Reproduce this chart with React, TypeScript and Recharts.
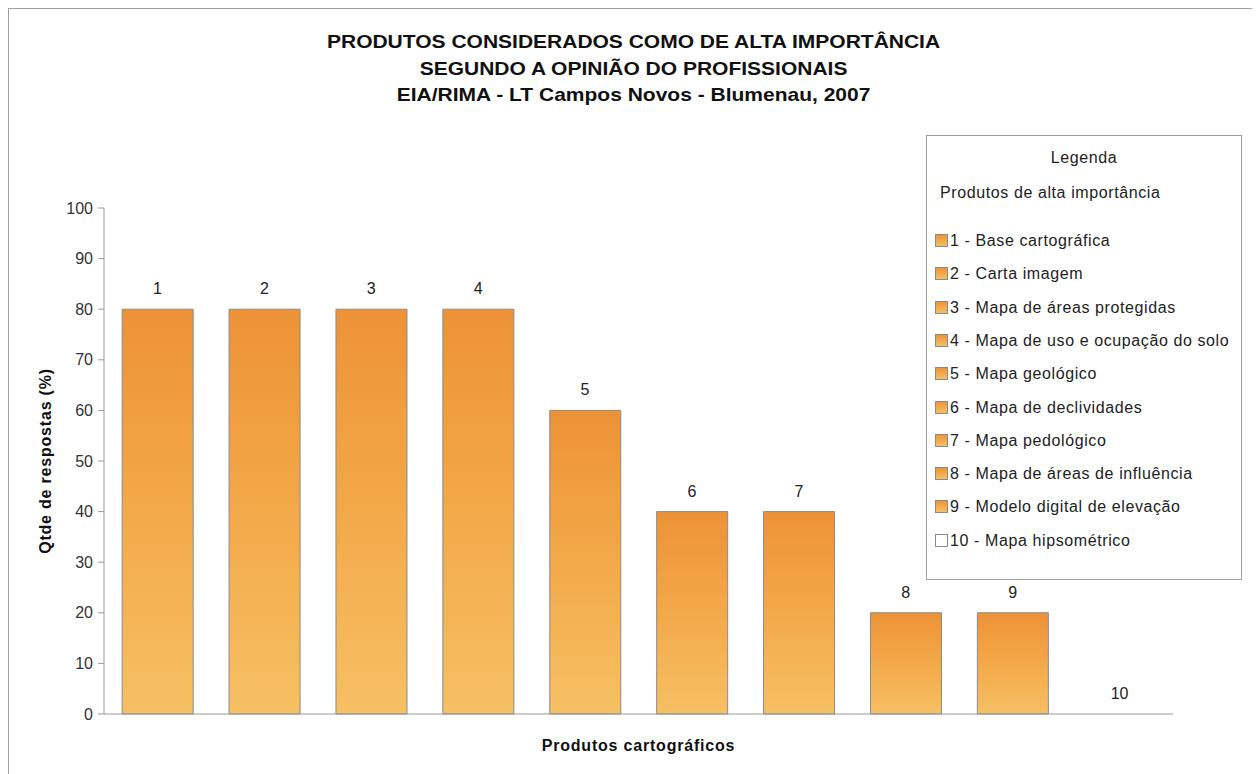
import React from "react";
import { ComposedChart, Bar, Line, XAxis, YAxis, LabelList } from "recharts";

const categories = ["1", "2", "3", "4", "5", "6", "7", "8", "9", "10"];
const respostas = [80, 80, 80, 80, 60, 40, 40, 20, 20, 0];
const legendNames = [
  "1 - Base cartográfica",
  "2 - Carta imagem",
  "3 - Mapa de áreas protegidas",
  "4 - Mapa de uso e ocupação do solo",
  "5 - Mapa geológico",
  "6 - Mapa de declividades",
  "7 - Mapa pedológico",
  "8 - Mapa de áreas de influência",
  "9 - Modelo digital de elevação",
  "10 - Mapa hipsométrico",
];
const yTicks = [0, 10, 20, 30, 40, 50, 60, 70, 80, 90, 100];
const titleLines = [
  "PRODUTOS CONSIDERADOS COMO DE ALTA IMPORTÂNCIA",
  "SEGUNDO A OPINIÃO DO PROFISSIONAIS",
  "EIA/RIMA - LT Campos Novos - Blumenau, 2007",
];

const data = categories.map((c, i) => ({ cat: c, value: respostas[i] }));

const FONT = '"Liberation Sans", Arial, sans-serif';

function Swatch({ filled }: { filled: boolean }) {
  return (
    <span
      style={{
        display: "inline-block",
        width: 11,
        height: 11,
        border: "1px solid #8a8a8a",
        background: filled
          ? "linear-gradient(to bottom, #ee9438, #f6c063)"
          : "#fff",
        marginRight: 2,
        verticalAlign: "-1px",
      }}
    />
  );
}

// legend box drawn over the chart so it doesn't shrink the plot area
function LegendBox() {
  return (
    <div
      style={{
        position: "absolute",
        left: 917,
        top: 126,
        width: 314,
        height: 443,
        border: "1px solid #a0a0a0",
        background: "#fff",
        fontFamily: FONT,
        fontSize: 16,
        letterSpacing: "0.6px",
        color: "#222",
      }}
    >
      <div style={{ position: "absolute", top: 13, left: 0, width: 314, textAlign: "center" }}>
        Legenda
      </div>
      <div style={{ position: "absolute", top: 48, left: 13 }}>
        Produtos de alta importância
      </div>
      {legendNames.map((name, i) => (
        <div
          key={name}
          style={{ position: "absolute", top: 96 + i * 33.3, left: 8, whiteSpace: "nowrap" }}
        >
          <Swatch filled={respostas[i] > 0} />
          {name}
        </div>
      ))}
    </div>
  );
}

export default function App() {
  return (
    <div
      style={{
        position: "relative",
        width: 1249,
        height: 765,
        borderTop: "1px solid #a0a0a0",
        borderLeft: "1px solid #a0a0a0",
        borderRight: "1px solid #a0a0a0",
        background: "#fff",
        overflow: "hidden",
      }}
    >
      <svg width={0} height={0} style={{ position: "absolute" }}>
        <defs>
          <linearGradient id="barGrad" x1="0" y1="0" x2="0" y2="1">
            <stop offset="0%" stopColor="#ed9236" />
            <stop offset="50%" stopColor="#f3a949" />
            <stop offset="100%" stopColor="#f6c063" />
          </linearGradient>
        </defs>
      </svg>
      <div
        style={{
          position: "absolute",
          top: 20,
          left: 0,
          width: 1249,
          textAlign: "center",
          fontFamily: FONT,
          fontWeight: "bold",
          fontSize: 19,
          lineHeight: "26.5px",
          color: "#111",
          transform: "scaleX(1.105)",
          transformOrigin: "624px 0",
        }}
      >
        {titleLines.map((t) => (
          <div key={t}>{t}</div>
        ))}
      </div>
      <ComposedChart
        width={1249}
        height={765}
        data={data}
        margin={{ top: 199, right: 85, bottom: 10, left: 31 }}
        barCategoryGap="17%"
        style={{ fontFamily: FONT, position: "absolute", left: 0, top: 0 }}
      >
        <XAxis
          dataKey="cat"
          tick={false}
          tickLine={false}
          height={50}
          axisLine={{ stroke: "#999" }}
          label={{
            value: "Produtos cartográficos",
            position: "insideBottom",
            offset: 13,
            fill: "#111",
            fontSize: 16,
            fontWeight: "bold",
            letterSpacing: "0.8px",
          }}
        />
        <YAxis
          domain={[0, 100]}
          ticks={yTicks}
          width={64}
          interval={0}
          tickSize={6}
          tickMargin={5}
          axisLine={{ stroke: "#999" }}
          tickLine={{ stroke: "#999" }}
          tick={{ fill: "#333", fontSize: 16 }}
          label={{
            value: "Qtde de respostas (%)",
            angle: -90,
            position: "insideLeft",
            offset: 5,
            fill: "#111",
            fontSize: 16,
            fontWeight: "bold",
            letterSpacing: "0.8px",
            style: { textAnchor: "middle" },
          }}
        />
        <Bar
          dataKey="value"
          fill="url(#barGrad)"
          stroke="#8a8a8a"
          strokeWidth={1}
          isAnimationActive={false}
        />
        <Line
          dataKey="value"
          stroke="none"
          dot={false}
          activeDot={false}
          isAnimationActive={false}
        >
          <LabelList
            dataKey="cat"
            position="top"
            offset={15}
            fill="#222"
            fontSize={16}
          />
        </Line>
      </ComposedChart>
      <LegendBox />
    </div>
  );
}
